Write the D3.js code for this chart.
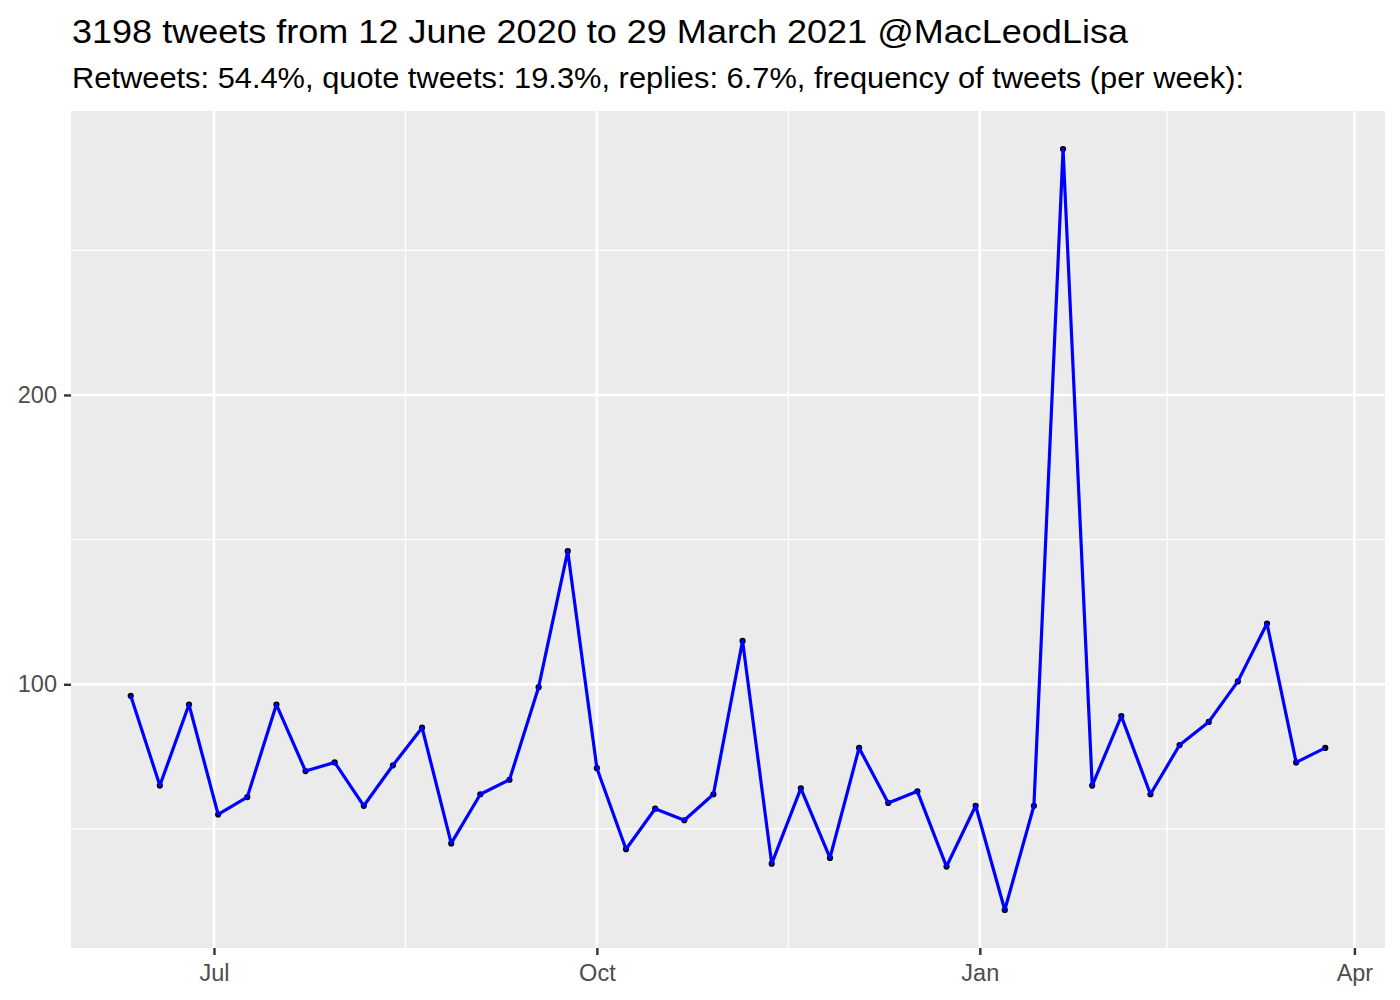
<!DOCTYPE html>
<html><head><meta charset="utf-8">
<script src="https://cdn.jsdelivr.net/npm/d3@7"></script>
<style>body{margin:0;background:#fff}svg{display:block}</style>
</head><body><svg id="c" width="1400" height="1000"></svg>
<script>
const weeks = ["2020-06-11","2020-06-18","2020-06-25","2020-07-02","2020-07-09","2020-07-16","2020-07-23","2020-07-30",
"2020-08-06","2020-08-13","2020-08-20","2020-08-27","2020-09-03","2020-09-10","2020-09-17","2020-09-24",
"2020-10-01","2020-10-08","2020-10-15","2020-10-22","2020-10-29","2020-11-05","2020-11-12","2020-11-19","2020-11-26",
"2020-12-03","2020-12-10","2020-12-17","2020-12-24","2020-12-31","2021-01-07","2021-01-14","2021-01-21","2021-01-28",
"2021-02-04","2021-02-11","2021-02-18","2021-02-25","2021-03-04","2021-03-11","2021-03-18","2021-03-25"];
const counts = [96,65,93,55,61,93,70,73,58,72,85,45,62,67,99,146,71,43,57,53,62,115,38,64,40,78,59,63,37,58,22,58,285,65,89,62,79,87,101,121,73,78];
const xTickDates = ["2020-07-01","2020-10-01","2021-01-01","2021-04-01"];
const xTickLabels = ["Jul","Oct","Jan","Apr"];
const yTicks = [100,200];
const yMinor = [50,150,250];
const title = "3198 tweets from 12 June 2020 to 29 March 2021 @MacLeodLisa";
const subtitle = "Retweets: 54.4%, quote tweets: 19.3%, replies: 6.7%, frequency of tweets (per week):";

const parse = d3.utcParse("%Y-%m-%d");
const data = weeks.map((w,i)=>({d:parse(w), v:counts[i]}));
const svg = d3.select("#c");
const L=71, R=1385, T=111, B=948;
const font = "'Liberation Sans', Arial, Helvetica, sans-serif";

const xExt = d3.extent(data,d=>+d.d), xr = xExt[1]-xExt[0];
const x = d3.scaleUtc().domain([new Date(xExt[0]-0.05*xr), new Date(xExt[1]+0.05*xr)]).range([L,R]);
const yExt = d3.extent(counts), yr = yExt[1]-yExt[0];
const y = d3.scaleLinear().domain([yExt[0]-0.05*yr, yExt[1]+0.05*yr]).range([B,T]);

svg.append("rect").attr("x",L).attr("y",T).attr("width",R-L).attr("height",B-T).attr("fill","#EBEBEB");
const xt = xTickDates.map(parse);
const xMinor = d3.pairs(xt).map(([a,b])=>new Date((+a + +b)/2));
const g = svg.append("g");
g.selectAll(".ym").data(yMinor).join("line").attr("x1",L).attr("x2",R).attr("y1",d=>y(d)).attr("y2",d=>y(d)).attr("stroke","#fff").attr("stroke-width",1.3);
g.selectAll(".xm").data(xMinor).join("line").attr("y1",T).attr("y2",B).attr("x1",d=>x(d)).attr("x2",d=>x(d)).attr("stroke","#fff").attr("stroke-width",1.3);
g.selectAll(".yM").data(yTicks).join("line").attr("x1",L).attr("x2",R).attr("y1",d=>y(d)).attr("y2",d=>y(d)).attr("stroke","#fff").attr("stroke-width",2.6);
g.selectAll(".xM").data(xt.filter(d=>x(d)<=R)).join("line").attr("y1",T).attr("y2",B).attr("x1",d=>x(d)).attr("x2",d=>x(d)).attr("stroke","#fff").attr("stroke-width",2.6);

const line = d3.line().x(d=>x(d.d)).y(d=>y(d.v));
svg.selectAll(".pt").data(data).join("circle").attr("cx",d=>x(d.d)).attr("cy",d=>y(d.v)).attr("r",3.1).attr("fill","#000");
svg.append("path").datum(data).attr("d",line).attr("fill","none").attr("stroke","#0000FF").attr("stroke-width",3.2).attr("stroke-linejoin","round");

// axes
const xAxis = d3.axisBottom(x).tickValues(xt).tickFormat((d,i)=>xTickLabels[i]).tickSize(7).tickPadding(5);
const ax = svg.append("g").attr("transform",`translate(0,${B})`).call(xAxis);
const yAxis = d3.axisLeft(y).tickValues(yTicks).tickSize(7).tickPadding(7);
const ay = svg.append("g").attr("transform",`translate(${L},0)`).call(yAxis);
[ax,ay].forEach(a=>{
  a.select(".domain").remove();
  a.selectAll(".tick line").attr("stroke","#333").attr("stroke-width",2.4);
  a.selectAll(".tick text").attr("fill","#4D4D4D").style("font-family",font).style("font-size","23.5px");
});
ax.selectAll(".tick text").attr("dy",null).attr("y",32.5);

svg.append("text").attr("x",72).attr("y",42.5).text(title).style("font-family",font).style("font-size","34px")
  .attr("textLength",1056).attr("lengthAdjust","spacingAndGlyphs").attr("fill","#000");
svg.append("text").attr("x",72).attr("y",87.5).text(subtitle).style("font-family",font).style("font-size","29px")
  .attr("textLength",1172).attr("lengthAdjust","spacingAndGlyphs").attr("fill","#000");
</script></body></html>
